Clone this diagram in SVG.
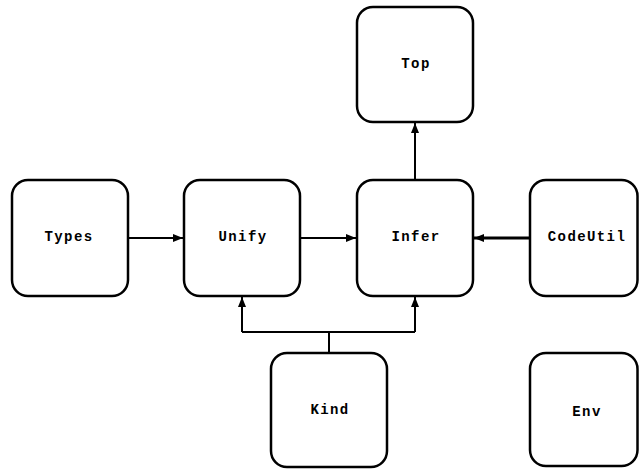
<svg xmlns="http://www.w3.org/2000/svg" width="639" height="470" viewBox="0 0 639 470">
<style>
.box{fill:#fff;stroke:#000;stroke-width:2.5}
.lbl{font-family:"Liberation Mono","Courier New",monospace;font-weight:bold;font-size:14px;letter-spacing:1.4px;text-anchor:middle}
.c{fill:none;stroke:#000;stroke-width:2}
</style>
<defs>
<marker id="ah" markerWidth="10" markerHeight="10" viewBox="0 0 10 10" refX="10" refY="5" orient="auto" markerUnits="userSpaceOnUse">
<path d="M0,1 L10,5 L0,9 Z" fill="#000"/>
</marker>
</defs>
<g id="connectors">
<path class="c" d="M128,238 H183" marker-end="url(#ah)"/>
<path class="c" d="M300,238 H356" marker-end="url(#ah)"/>
<path class="c" style="stroke-width:3" d="M530,238 H474" marker-end="url(#ah)"/>
<path class="c" d="M415,180 V123" marker-end="url(#ah)"/>
<path class="c" d="M329,353 V332 M242,332 H415"/>
<path class="c" d="M242,332 V297" marker-end="url(#ah)"/>
<path class="c" d="M415,332 V297" marker-end="url(#ah)"/>
</g>
<g id="Types"><rect class="box" x="12" y="180" width="116" height="116" rx="16"/><text class="lbl" x="69" y="241">Types</text></g>
<g id="Unify"><rect class="box" x="184" y="180" width="116" height="116" rx="16"/><text class="lbl" x="243" y="241">Unify</text></g>
<g id="Infer"><rect class="box" x="357" y="180" width="116" height="116" rx="16"/><text class="lbl" x="416" y="241">Infer</text></g>
<g id="CodeUtil"><rect class="box" x="530" y="180" width="107.5" height="116" rx="16"/><text class="lbl" x="587" y="241">CodeUtil</text></g>
<g id="Top"><rect class="box" x="357" y="7" width="116" height="115" rx="16"/><text class="lbl" x="416" y="68">Top</text></g>
<g id="Kind"><rect class="box" x="271" y="353" width="116" height="114" rx="16"/><text class="lbl" x="330" y="414">Kind</text></g>
<g id="Env"><rect class="box" x="530" y="353" width="107.5" height="113" rx="16"/><text class="lbl" x="587" y="416">Env</text></g>
</svg>
